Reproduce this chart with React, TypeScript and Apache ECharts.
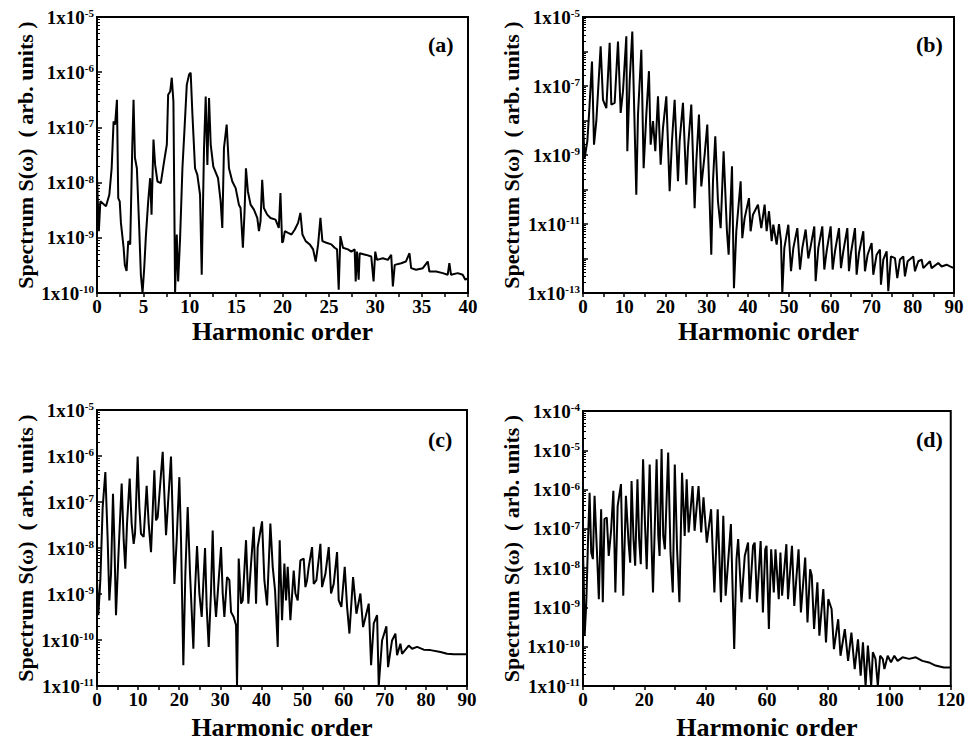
import React, { useEffect, useRef } from "react";
import * as echarts from "echarts";

// ---------- Data (harmonic order, log10 of spectrum S(ω)) ----------
const harmonicA = [0, 0.2, 0.36, 0.97, 1.33, 1.58, 1.79, 1.95, 2.15, 2.29, 2.45, 2.58, 2.87, 3.0, 3.19, 3.37, 3.58, 3.8, 3.94, 4.09, 4.3, 4.55, 4.73, 4.91, 5.09, 5.27, 5.52, 5.73, 5.88, 6.09, 6.27, 6.52, 6.88, 7.24, 7.53, 7.67, 7.89, 8.06, 8.24, 8.42, 8.6, 8.75, 8.96, 9.21, 9.46, 9.68, 9.93, 10.1, 10.29, 10.57, 10.82, 11.11, 11.29, 11.54, 11.72, 11.9, 12.08, 12.26, 12.54, 13.05, 13.33, 13.51, 13.69, 13.98, 14.23, 14.59, 14.95, 15.3, 15.48, 15.73, 15.91, 16.06, 16.27, 16.56, 16.92, 17.28, 17.46, 17.63, 17.81, 17.99, 18.35, 18.71, 19.25, 19.6, 19.78, 19.96, 20.07, 20.25, 20.6, 20.97, 21.33, 21.68, 21.93, 22.15, 22.5, 22.94, 23.3, 23.58, 23.84, 24.09, 24.3, 24.73, 25.27, 25.63, 25.88, 26.06, 26.24, 26.52, 27.06, 27.42, 27.78, 27.89, 28.03, 28.21, 28.32, 29.03, 29.57, 29.82, 30.0, 30.18, 30.82, 31.36, 31.72, 31.9, 32.1, 32.8, 33.3, 33.69, 33.87, 34.4, 35.13, 35.66, 35.84, 36.56, 37.28, 37.81, 37.99, 38.17, 38.89, 39.43, 39.71, 40];
const logSpectrumA = [-7.9, -8.88, -8.34, -8.43, -8.22, -7.74, -6.89, -6.95, -6.5, -8.28, -8.34, -8.73, -9.18, -9.49, -9.6, -9.06, -9.12, -7.37, -6.5, -7.55, -7.74, -8.82, -9.67, -10.0, -9.55, -8.97, -8.34, -7.92, -8.58, -7.22, -7.68, -7.98, -8.01, -7.61, -7.31, -6.41, -6.35, -6.1, -6.53, -10.0, -8.94, -9.79, -9.0, -7.74, -6.95, -6.23, -6.04, -6.01, -6.77, -7.74, -7.86, -8.22, -9.67, -7.37, -6.44, -7.68, -6.47, -7.31, -7.71, -7.92, -8.34, -8.82, -7.37, -6.95, -7.74, -7.98, -8.1, -8.4, -8.46, -9.18, -8.52, -7.74, -8.16, -8.4, -8.49, -8.64, -8.88, -8.7, -7.95, -8.46, -8.58, -8.64, -8.67, -8.82, -8.19, -9.09, -9.06, -8.88, -8.91, -8.94, -8.85, -8.73, -8.55, -8.94, -9.06, -9.12, -9.21, -9.43, -9.12, -8.64, -9.06, -9.09, -9.12, -9.18, -9.21, -9.94, -8.97, -9.18, -9.21, -9.25, -9.21, -9.79, -9.25, -9.76, -9.28, -9.31, -9.34, -9.79, -9.25, -9.4, -9.37, -9.4, -9.31, -9.88, -9.49, -9.46, -9.43, -9.28, -9.55, -9.58, -9.55, -9.43, -9.61, -9.61, -9.64, -9.67, -9.46, -9.67, -9.64, -9.67, -9.76, -9.73];

const harmonicB = [0, 0.4, 1.05, 1.46, 2.18, 2.67, 3.23, 4.28, 4.85, 5.66, 6.47, 6.87, 7.68, 8.49, 9.14, 9.7, 10.51, 10.75, 11.32, 11.96, 12.93, 13.34, 14.15, 14.71, 15.36, 16.0, 16.41, 16.98, 17.54, 18.19, 18.84, 19.4, 20.21, 21.02, 21.58, 22.23, 23.04, 23.44, 24.25, 25.06, 25.46, 26.27, 27.08, 27.49, 28.13, 28.7, 29.51, 30.15, 31.12, 31.53, 32.09, 32.74, 33.39, 34.11, 34.92, 35.33, 36.14, 36.62, 37.19, 38.24, 38.64, 39.21, 40.26, 40.66, 41.23, 42.44, 43.25, 44.06, 44.55, 45.12, 45.77, 46.17, 46.98, 47.55, 48.03, 48.35, 48.84, 49.81, 50.46, 51.02, 51.99, 52.64, 53.2, 54.01, 54.66, 55.15, 56.11, 56.44, 57.08, 58.05, 58.54, 59.1, 60.08, 60.56, 61.13, 62.1, 62.58, 63.15, 64.12, 64.52, 65.01, 65.98, 66.38, 66.95, 68.0, 68.4, 69.05, 70.02, 70.42, 71.23, 72.04, 72.28, 72.85, 73.66, 74.06, 74.71, 75.68, 76.24, 76.89, 77.7, 78.1, 78.75, 80.12, 80.53, 81.34, 82.15, 82.55, 84.17, 84.57, 86.19, 87.0, 88.21, 89.02, 90];
const logSpectrumB = [-8.12, -9.09, -8.6, -7.83, -6.29, -8.7, -8.02, -5.85, -7.4, -7.64, -5.75, -7.54, -7.49, -5.71, -7.78, -7.15, -5.56, -8.89, -6.86, -5.42, -10.15, -7.83, -5.95, -9.38, -7.83, -6.57, -8.7, -8.02, -8.89, -7.3, -9.28, -8.22, -7.3, -10.05, -8.6, -7.4, -9.76, -8.6, -7.49, -9.86, -8.8, -7.54, -10.54, -9.18, -7.83, -9.91, -8.99, -8.12, -11.89, -9.76, -8.46, -10.34, -11.12, -8.89, -11.21, -11.89, -9.33, -12.86, -11.21, -9.76, -11.41, -10.83, -10.25, -11.21, -10.73, -10.44, -11.12, -10.44, -11.21, -10.63, -11.5, -11.02, -11.6, -11.0, -11.5, -13.0, -11.7, -11.02, -12.37, -11.7, -11.12, -12.32, -11.7, -11.16, -12.0, -11.7, -11.07, -12.66, -11.7, -11.07, -12.32, -11.79, -11.07, -12.32, -11.79, -11.12, -12.28, -11.79, -11.12, -12.37, -11.84, -11.12, -12.47, -11.84, -11.21, -12.37, -11.89, -11.55, -12.47, -11.89, -11.74, -12.76, -12.03, -11.79, -12.95, -11.94, -11.99, -12.57, -12.03, -11.94, -12.52, -12.08, -11.94, -12.37, -12.08, -12.03, -12.28, -12.08, -12.28, -12.13, -12.23, -12.18, -12.23, -12.28];

const harmonicC = [0, 0.32, 0.81, 1.38, 2.03, 2.6, 3.0, 3.41, 3.89, 4.22, 4.62, 5.19, 6.0, 6.49, 6.89, 7.3, 7.95, 8.43, 8.92, 9.25, 9.89, 10.3, 10.7, 11.35, 12.08, 12.57, 13.14, 13.95, 14.36, 14.76, 15.98, 16.38, 16.79, 18.0, 18.41, 18.82, 19.38, 20.03, 20.44, 21.0, 21.49, 22.06, 22.63, 23.44, 23.84, 24.33, 24.9, 25.47, 26.28, 26.68, 27.17, 27.74, 28.14, 28.55, 28.95, 30.17, 30.58, 30.98, 31.63, 32.2, 32.6, 33.25, 33.82, 34.06, 34.47, 35.04, 35.44, 36.25, 36.82, 37.47, 38.12, 38.69, 39.09, 40.15, 40.71, 41.36, 42.17, 42.74, 43.31, 43.96, 44.44, 45.01, 45.58, 45.99, 46.39, 47.04, 47.85, 48.26, 48.82, 49.47, 50.28, 50.69, 51.1, 51.5, 52.31, 52.72, 53.37, 54.34, 54.75, 55.56, 56.37, 56.93, 57.58, 58.39, 58.8, 59.45, 60.26, 60.83, 61.4, 62.29, 63.1, 64.07, 64.72, 66.1, 66.67, 67.32, 68.13, 68.53, 69.34, 70.39, 70.8, 71.77, 72.58, 72.99, 73.8, 74.2, 75.83, 76.64, 77.86, 79.48, 81.1, 83.54, 85.16, 86.78, 90];
const logSpectrumC = [-8.7, -9.46, -8.7, -7.11, -6.35, -7.83, -9.14, -8.56, -6.82, -7.83, -9.46, -8.2, -6.6, -7.83, -8.45, -7.47, -6.49, -7.47, -7.91, -7.69, -6.01, -7.11, -7.69, -7.76, -6.65, -7.47, -8.09, -6.31, -7.4, -7.33, -5.91, -6.82, -7.72, -6.01, -7.33, -8.78, -7.83, -6.46, -7.83, -10.55, -8.56, -7.11, -8.56, -10.19, -8.92, -7.96, -8.99, -9.5, -8.0, -9.28, -10.15, -8.92, -7.62, -8.99, -9.5, -7.98, -8.99, -9.5, -8.63, -8.7, -9.39, -9.5, -9.68, -11.0, -8.23, -9.21, -9.14, -7.83, -9.21, -8.34, -7.54, -9.21, -7.98, -7.42, -8.7, -9.25, -7.47, -8.41, -8.92, -10.15, -7.83, -9.57, -8.34, -9.14, -8.41, -9.57, -8.49, -8.99, -9.14, -8.27, -8.23, -8.85, -8.7, -8.41, -7.98, -8.78, -8.7, -7.91, -8.85, -8.56, -7.98, -8.99, -8.78, -8.09, -9.14, -9.28, -8.41, -9.28, -9.86, -8.63, -9.43, -8.99, -9.72, -9.21, -10.55, -9.64, -9.46, -11.0, -10.01, -9.7, -10.59, -10.01, -9.86, -10.33, -10.08, -10.3, -10.12, -10.19, -10.15, -10.21, -10.22, -10.26, -10.3, -10.31, -10.31];

const harmonicD = [0, 0.22, 0.54, 1.08, 1.62, 2.15, 2.69, 3.23, 3.77, 4.52, 5.17, 5.92, 6.46, 7.0, 7.76, 8.4, 9.16, 9.91, 10.56, 11.31, 12.39, 13.14, 14.0, 14.87, 15.4, 15.84, 16.48, 17.02, 17.77, 18.31, 18.85, 19.61, 20.25, 20.79, 21.76, 22.41, 22.84, 24.02, 24.56, 24.99, 25.64, 26.18, 26.72, 27.79, 28.55, 29.3, 29.95, 30.7, 31.46, 32.32, 33.18, 33.83, 34.47, 35.76, 36.41, 37.7, 38.56, 39.32, 40.4, 41.8, 42.87, 43.95, 45.03, 45.78, 46.54, 48.26, 49.34, 50.09, 50.63, 51.71, 52.78, 53.86, 54.4, 55.48, 56.02, 56.77, 57.96, 58.71, 59.46, 59.89, 60.65, 61.4, 62.26, 62.81, 63.88, 64.42, 64.96, 66.36, 66.9, 68.19, 68.94, 70.34, 71.1, 72.5, 73.25, 74.11, 74.65, 75.4, 76.48, 77.13, 78.42, 79.29, 80.04, 81.12, 81.88, 83.27, 84.03, 85.43, 86.5, 87.58, 88.66, 89.73, 90.6, 91.35, 92.21, 92.96, 94.04, 94.58, 95.44, 96.2, 96.95, 97.81, 98.35, 99.43, 100.5, 101.58, 102.66, 104.27, 106.43, 108.58, 110.74, 112.89, 115.04, 117.74, 120];
const logSpectrumD = [-7.6, -8.19, -9.72, -8.87, -7.35, -6.08, -7.6, -7.77, -6.16, -7.52, -8.79, -6.5, -8.87, -6.75, -6.71, -7.69, -7.05, -6.03, -8.62, -6.42, -5.86, -8.7, -6.16, -7.35, -7.86, -5.78, -7.26, -7.94, -5.74, -7.26, -7.9, -5.23, -6.92, -8.03, -5.36, -7.52, -8.62, -5.23, -7.18, -7.69, -4.97, -7.18, -7.52, -5.06, -7.6, -8.62, -5.36, -7.52, -8.87, -5.57, -7.18, -5.74, -7.09, -5.91, -7.05, -5.91, -7.09, -6.2, -7.35, -6.5, -8.62, -6.5, -8.87, -6.67, -8.7, -6.88, -10.06, -7.77, -7.26, -8.87, -7.69, -7.35, -8.79, -7.43, -7.35, -8.87, -7.31, -9.13, -7.52, -7.43, -9.55, -7.52, -8.62, -7.52, -8.79, -7.6, -8.7, -7.39, -8.79, -7.43, -8.96, -7.52, -9.13, -7.73, -9.38, -8.03, -8.19, -9.55, -8.36, -9.72, -8.53, -9.89, -8.79, -9.04, -10.06, -9.3, -10.23, -9.55, -10.36, -9.64, -10.57, -9.81, -10.74, -9.89, -11.0, -9.97, -11.0, -10.14, -10.31, -11.0, -10.23, -10.31, -10.57, -10.23, -10.4, -10.23, -10.36, -10.27, -10.31, -10.27, -10.36, -10.4, -10.48, -10.53, -10.53];

const panelLabels = ["(a)", "(b)", "(c)", "(d)"];
const xMaxes = [40, 90, 90, 120];
const xIntervals = [5, 10, 10, 20];
const yMinExp = [-10, -13, -11, -11];
const yMaxExp = [-5, -5, -5, -4];
const xAxisTitle = "Harmonic order";
const yAxisTitle = "Spectrum S(\u03c9)  ( arb. units )";

const FONT = "'Liberation Serif', 'Times New Roman', serif";

const grids = [
  { left: 97, top: 17, width: 371, height: 276 },
  { left: 583, top: 17, width: 371, height: 276 },
  { left: 97, top: 410, width: 370, height: 276 },
  { left: 583, top: 411, width: 372, height: 275 },
];
const labelPos = [
  { left: 428, top: 33 },
  { left: 916, top: 33 },
  { left: 428, top: 428 },
  { left: 916, top: 428 },
];

export default function App() {
  const ref = useRef<HTMLDivElement>(null);
  useEffect(() => {
    if (!ref.current) return;
    const chart = echarts.init(ref.current, undefined, { renderer: "svg" });
    const xs = [harmonicA, harmonicB, harmonicC, harmonicD];
    const ys = [logSpectrumA, logSpectrumB, logSpectrumC, logSpectrumD];

    const option: any = {
      animation: false,
      backgroundColor: "#fff",
      grid: grids.map((g) => ({ ...g, show: true, borderColor: "#000", borderWidth: 2, backgroundColor: "transparent" })),
      xAxis: grids.map((_, i) => ({
        type: "value",
        gridIndex: i,
        min: 0,
        max: xMaxes[i],
        interval: xIntervals[i],
        name: xAxisTitle,
        nameLocation: "middle",
        nameGap: i < 2 ? 25 : 28,
        nameTextStyle: { fontFamily: FONT, fontWeight: "bold", fontSize: 26, color: "#000" },
        axisLine: { show: true, onZero: false, lineStyle: { color: "#000", width: 2 } },
        axisTick: { show: true, length: 4, lineStyle: { color: "#000", width: 1.5 } },
        minorTick: { show: true, splitNumber: 2, length: 4, lineStyle: { color: "#000", width: 1.5 } },
        axisLabel: { fontFamily: FONT, fontWeight: "bold", fontSize: 19, color: "#000", margin: 4 },
        splitLine: { show: false },
      })),
      yAxis: grids.map((_, i) => ({
        type: "log",
        logBase: 10,
        gridIndex: i,
        min: Math.pow(10, yMinExp[i]),
        max: Math.pow(10, yMaxExp[i]),
        splitNumber: yMaxExp[i] - yMinExp[i],
        name: yAxisTitle,
        nameLocation: "middle",
        nameGap: 61,
        nameRotate: 90,
        nameTextStyle: { fontFamily: FONT, fontWeight: "bold", fontSize: 22, color: "#000" },
        axisLine: { show: true, lineStyle: { color: "#000", width: 2 } },
        axisTick: { show: true, inside: true, length: 5, lineStyle: { color: "#000", width: 1.5 } },
        minorTick: { show: true, splitNumber: 9, length: 3, lineStyle: { color: "#000", width: 1 } },
        axisLabel: {
          margin: 3,
          formatter: (v: number) => {
            const e = Math.round(Math.log10(v));
            if (i === 1 && e % 2 === 0) return "";
            return `{m|1x10}{e|${e}}`;
          },
          rich: {
            m: { fontFamily: FONT, fontWeight: "bold", fontSize: 19, color: "#000", lineHeight: 19 },
            e: { fontFamily: FONT, fontWeight: "bold", fontSize: 11, color: "#000", verticalAlign: "top", lineHeight: 19 },
          },
        },
        splitLine: { show: false },
      })),
      series: xs.map((xv, i) => ({
        type: "line",
        xAxisIndex: i,
        yAxisIndex: i,
        showSymbol: false,
        symbol: "none",
        lineStyle: { color: "#000", width: 2 },
        data: xv.map((h, k) => [h, Math.pow(10, ys[i][k])]),
      })),
      graphic: panelLabels.map((t, i) => ({
        type: "text",
        left: labelPos[i].left,
        top: labelPos[i].top,
        style: { text: t, font: `bold 22px ${FONT}`, fill: "#000" },
      })),
    };
    chart.setOption(option);
    return () => chart.dispose();
  }, []);
  return <div ref={ref} style={{ position: "absolute", left: 0, top: 0, width: 968, height: 743 }} />;
}
